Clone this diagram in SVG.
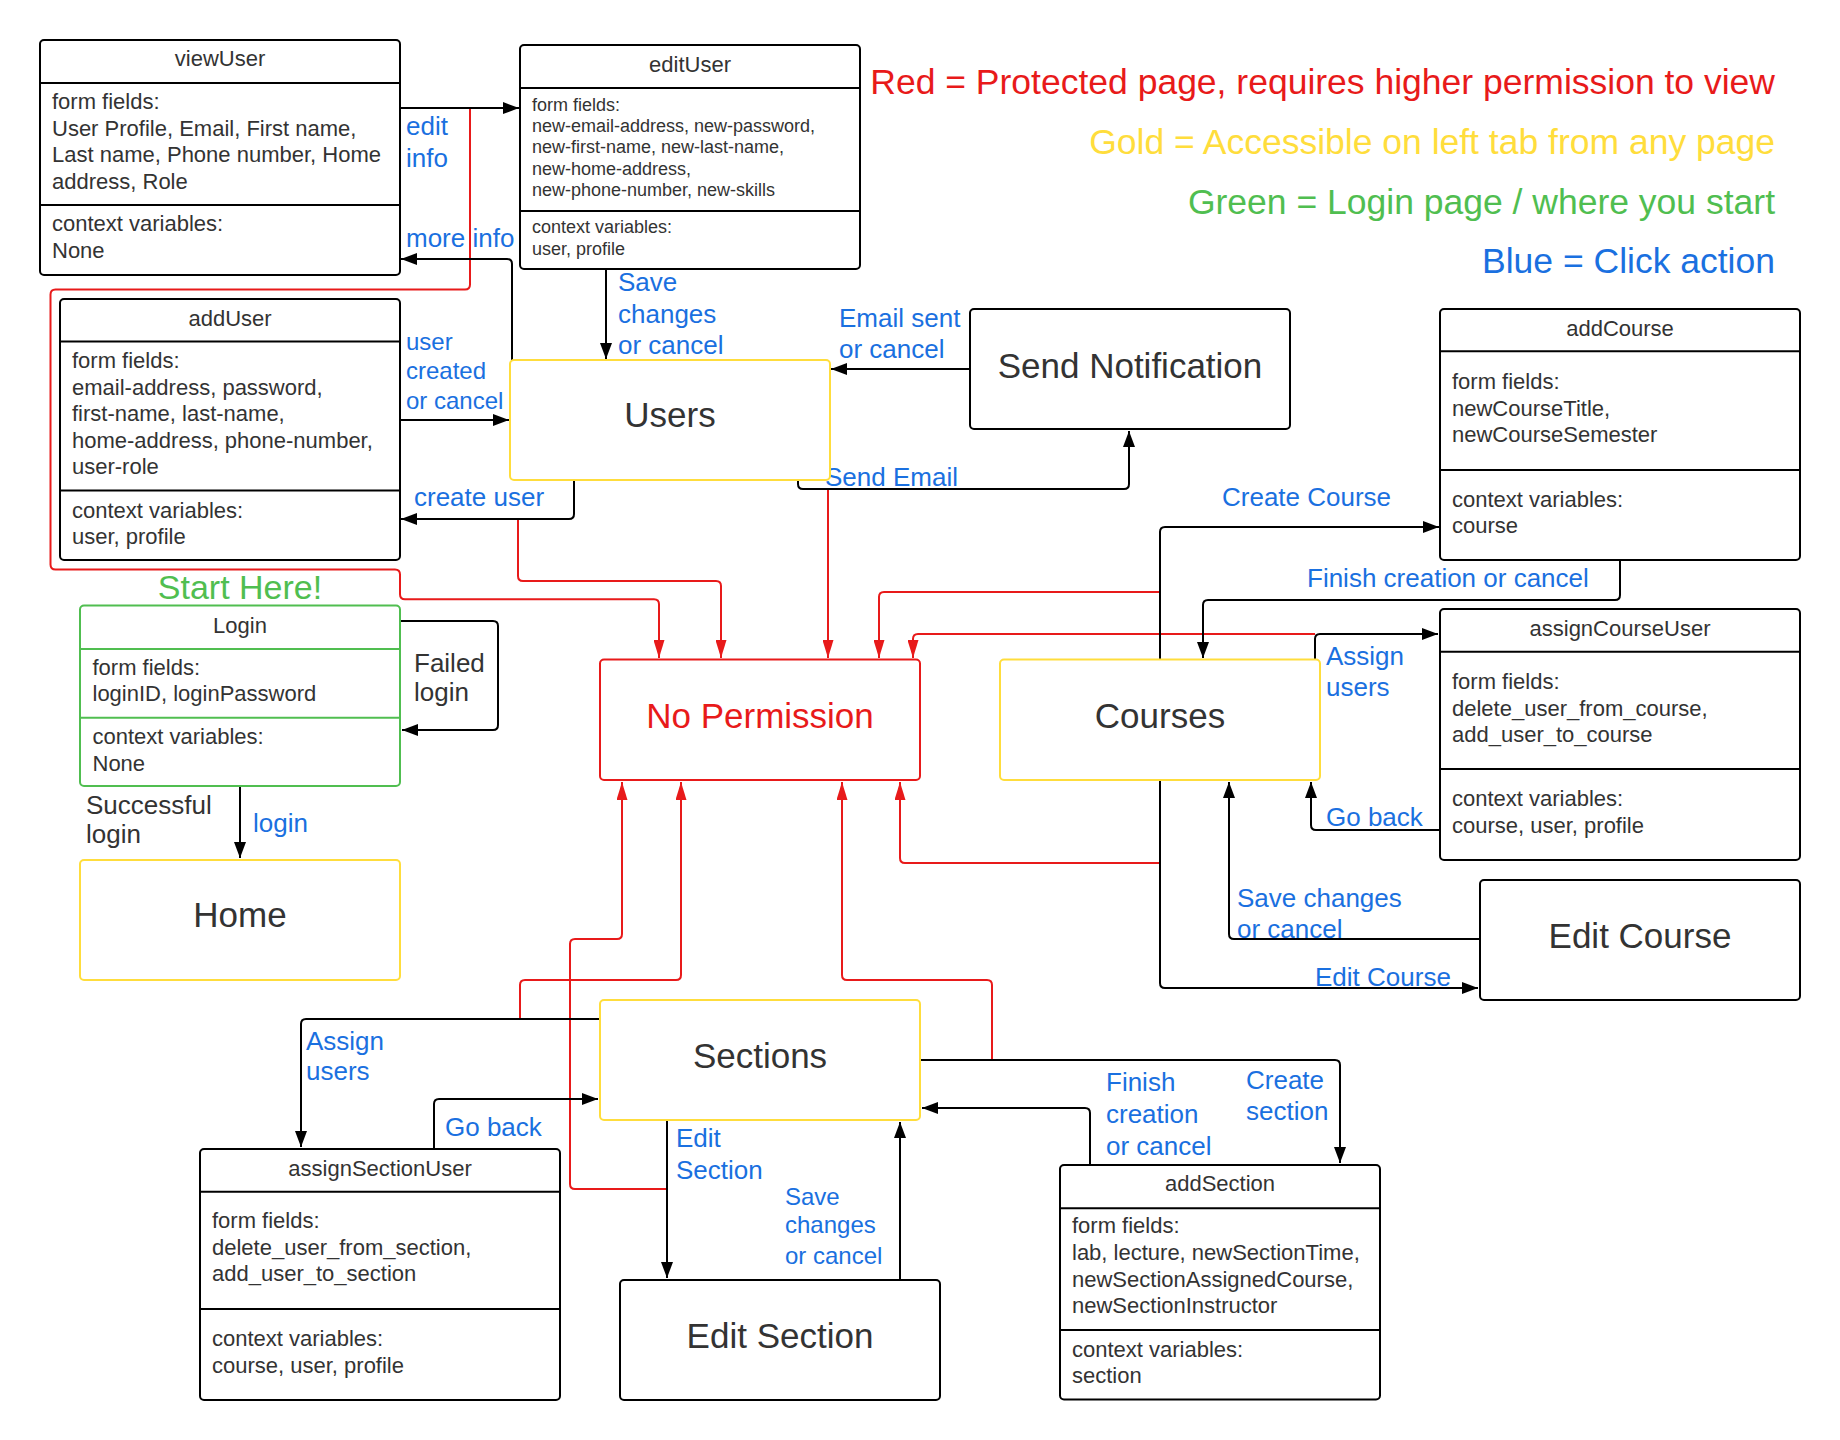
<svg xmlns="http://www.w3.org/2000/svg" width="1840" height="1440" viewBox="0 0 1840 1440">
<defs>
<marker id="ab" markerUnits="userSpaceOnUse" markerWidth="16" markerHeight="12" refX="16" refY="6" orient="auto"><path d="M0,0 L16,6 L0,12 z" fill="#000"/></marker>
<marker id="ar" markerUnits="userSpaceOnUse" markerWidth="18" markerHeight="11" refX="18" refY="5.5" orient="auto"><path d="M0,0 L18,5.5 L0,11 z" fill="#e81a1a"/></marker>
</defs>
<style>
text{font-family:"Liberation Sans",Arial,sans-serif;fill:#333}
.box{fill:#fff;stroke:#000;stroke-width:2}
.yel{fill:#fff;stroke:#ffdd3c;stroke-width:2}
.grn{fill:#fff;stroke:#50be50;stroke-width:2}
.red{fill:#fff;stroke:#e81a1a;stroke-width:2}
.div{stroke:#000;stroke-width:2}
.gdiv{stroke:#50be50;stroke-width:2}
.t22{font-size:22px}
.t18{font-size:18px}
.t26{font-size:26px}
.big{font-size:35px}
.mid{text-anchor:middle}
.leg{font-size:35.5px;text-anchor:end}
.lbl{font-size:26px;fill:#1a70e0}
.l24{font-size:24px;fill:#1a70e0}
.k{fill:none;stroke:#000;stroke-width:2;stroke-linejoin:round;marker-end:url(#ab)}
.r{fill:none;stroke:#e81a1a;stroke-width:2;stroke-linejoin:round;marker-end:url(#ar)}
</style>
<rect width="1840" height="1440" fill="#fff"/>

<g id="connectors">
<path class="r" d="M470,108 V284.5 Q470,289.5 465,289.5 H55.5 Q50.5,289.5 50.5,294.5 V564.5 Q50.5,569.5 55.5,569.5 H395 Q400,569.5 400,574.5 V594.3 Q400,599.3 405,599.3 H654 Q659,599.3 659,604.3 V658"/>
<path class="r" d="M518,519 V576 Q518,581 523,581 H716 Q721,581 721,586 V658"/>
<path class="r" d="M828,490 V658"/>
<path class="r" d="M1160,592 H884 Q879,592 879,597 V658"/>
<path class="r" d="M1315,634 H918 Q913,634 913,639 V658"/>
<path class="r" d="M1160,863 H905 Q900,863 900,858 V782"/>
<path class="r" d="M666,1189 H575 Q570,1189 570,1184 V944 Q570,939 575,939 H617 Q622,939 622,934 V782"/>
<path class="r" d="M520,1019 V985 Q520,980 525,980 H676 Q681,980 681,975 V782"/>
<path class="r" d="M992,1060 V985 Q992,980 987,980 H847 Q842,980 842,975 V782"/>

<path class="k" d="M400,108 H519"/>
<path class="k" d="M512,360 V264 Q512,259 507,259 H401"/>
<path class="k" d="M606,269 V359"/>
<path class="k" d="M400,420 H509"/>
<path class="k" d="M574,480 V514 Q574,519 569,519 H401"/>
<path class="k" d="M798,480 V484 Q798,489 803,489 H1124 Q1129,489 1129,484 V431"/>
<path class="k" d="M970,369 H831"/>
<path class="k" d="M1160,659 V532 Q1160,527 1165,527 H1439"/>
<path class="k" d="M1620,560 V595 Q1620,600 1615,600 H1208 Q1203,600 1203,605 V658"/>
<path class="k" d="M1315,659 V639 Q1315,634 1320,634 H1438"/>
<path class="k" d="M1440,830 H1316 Q1311,830 1311,825 V782"/>
<path class="k" d="M1480,939 H1234 Q1229,939 1229,934 V782"/>
<path class="k" d="M1160,780 V983 Q1160,988 1165,988 H1478"/>
<path class="k" d="M400,621 H493 Q498,621 498,626 V725 Q498,730 493,730 H402"/>
<path class="k" d="M240,786 V858"/>
<path class="k" d="M600,1019 H306 Q301,1019 301,1024 V1147"/>
<path class="k" d="M434,1149 V1104 Q434,1099 439,1099 H598"/>
<path class="k" d="M667,1120 V1278"/>
<path class="k" d="M900,1280 V1122"/>
<path class="k" d="M920,1060 H1335 Q1340,1060 1340,1065 V1163"/>
<path class="k" d="M1090,1165 V1113 Q1090,1108 1085,1108 H922"/>

<text class="lbl" x="406" y="135">edit</text>
<text class="lbl" x="406" y="167">info</text>
<text class="lbl" x="406" y="247">more info</text>
<text class="lbl" x="618" y="291">Save</text>
<text class="lbl" x="618" y="322.5">changes</text>
<text class="lbl" x="618" y="354">or cancel</text>
<text class="lbl" x="839" y="326.5">Email sent</text>
<text class="lbl" x="839" y="358">or cancel</text>
<text class="l24" x="406" y="350">user</text>
<text class="l24" x="406" y="379">created</text>
<text class="l24" x="406" y="408.5">or cancel</text>
<text class="lbl" x="414" y="506">create user</text>
<text class="lbl" x="825" y="486">Send Email</text>
<text class="lbl" x="1222" y="506">Create Course</text>
<text class="lbl" x="1307" y="587">Finish creation or cancel</text>
<text class="lbl" x="1326" y="665">Assign</text>
<text class="lbl" x="1326" y="696">users</text>
<text class="lbl" x="1326" y="826">Go back</text>
<text class="lbl" x="1237" y="906.5">Save changes</text>
<text class="lbl" x="1237" y="938">or cancel</text>
<text class="lbl" x="1315" y="986">Edit Course</text>
<text class="lbl" x="253" y="831.5">login</text>
<text class="lbl" x="306" y="1050">Assign</text>
<text class="lbl" x="306" y="1080">users</text>
<text class="lbl" x="445" y="1136">Go back</text>
<text class="lbl" x="676" y="1147">Edit</text>
<text class="lbl" x="676" y="1178.5">Section</text>
<text class="l24" x="785" y="1204.5">Save</text>
<text class="l24" x="785" y="1233">changes</text>
<text class="l24" x="785" y="1263.5">or cancel</text>
<text class="lbl" x="1106" y="1091">Finish</text>
<text class="lbl" x="1106" y="1122.5">creation</text>
<text class="lbl" x="1106" y="1155">or cancel</text>
<text class="lbl" x="1246" y="1088.5">Create</text>
<text class="lbl" x="1246" y="1120">section</text>
<text class="t26" x="414" y="671.5">Failed</text>
<text class="t26" x="414" y="701">login</text>
<text class="t26" x="86" y="813.5">Successful</text>
<text class="t26" x="86" y="843">login</text>
</g>

<g id="legend">
<text class="leg" x="1775" y="94" style="fill:#e81a1a">Red = Protected page, requires higher permission to view</text>
<text class="leg" x="1775" y="153.5" style="fill:#ffdd3c">Gold = Accessible on left tab from any page</text>
<text class="leg" x="1775" y="213.5" style="fill:#50be50">Green = Login page / where you start</text>
<text class="leg" x="1775" y="273" style="fill:#1a70e0">Blue = Click action</text>
<text x="240" y="598.5" style="font-size:34px;text-anchor:middle;fill:#50be50">Start Here!</text>
</g>

<g id="viewUser">
<rect class="box" x="40" y="40" width="360" height="235" rx="4"/>
<line class="div" x1="40" y1="83" x2="400" y2="83"/>
<line class="div" x1="40" y1="205" x2="400" y2="205"/>
<text class="t22 mid" x="220" y="66">viewUser</text>
<text class="t22" x="52" y="109">form fields:</text>
<text class="t22" x="52" y="135.6">User Profile, Email, First name,</text>
<text class="t22" x="52" y="162.2">Last name, Phone number, Home</text>
<text class="t22" x="52" y="188.8">address, Role</text>
<text class="t22" x="52" y="231">context variables:</text>
<text class="t22" x="52" y="258">None</text>
</g>

<g id="editUser">
<rect class="box" x="520" y="45" width="340" height="224" rx="4"/>
<line class="div" x1="520" y1="88" x2="860" y2="88"/>
<line class="div" x1="520" y1="211" x2="860" y2="211"/>
<text class="t22 mid" x="690" y="71.5">editUser</text>
<text class="t18" x="532" y="110.5">form fields:</text>
<text class="t18" x="532" y="132">new-email-address, new-password,</text>
<text class="t18" x="532" y="153.4">new-first-name, new-last-name,</text>
<text class="t18" x="532" y="174.8">new-home-address,</text>
<text class="t18" x="532" y="196.2">new-phone-number, new-skills</text>
<text class="t18" x="532" y="233.3">context variables:</text>
<text class="t18" x="532" y="254.8">user, profile</text>
</g>

<g id="addUser">
<rect class="box" x="60" y="299" width="340" height="261" rx="4"/>
<line class="div" x1="60" y1="341.5" x2="400" y2="341.5"/>
<line class="div" x1="60" y1="490.5" x2="400" y2="490.5"/>
<text class="t22 mid" x="230" y="325.5">addUser</text>
<text class="t22" x="72" y="368">form fields:</text>
<text class="t22" x="72" y="394.6">email-address, password,</text>
<text class="t22" x="72" y="421.2">first-name, last-name,</text>
<text class="t22" x="72" y="447.8">home-address, phone-number,</text>
<text class="t22" x="72" y="474.4">user-role</text>
<text class="t22" x="72" y="517.8">context variables:</text>
<text class="t22" x="72" y="544.2">user, profile</text>
</g>

<g id="Users">
<rect class="yel" x="510" y="360" width="320" height="120" rx="4"/>
<text class="big mid" x="670" y="427">Users</text>
</g>

<g id="SendNotification">
<rect class="box" x="970" y="309" width="320" height="120" rx="4"/>
<text class="big mid" x="1130" y="377.5">Send Notification</text>
</g>

<g id="addCourse">
<rect class="box" x="1440" y="309" width="360" height="251" rx="4"/>
<line class="div" x1="1440" y1="351.3" x2="1800" y2="351.3"/>
<line class="div" x1="1440" y1="470" x2="1800" y2="470"/>
<text class="t22 mid" x="1620" y="335.7">addCourse</text>
<text class="t22" x="1452" y="389">form fields:</text>
<text class="t22" x="1452" y="415.8">newCourseTitle,</text>
<text class="t22" x="1452" y="442.4">newCourseSemester</text>
<text class="t22" x="1452" y="506.7">context variables:</text>
<text class="t22" x="1452" y="533.4">course</text>
</g>

<g id="Login">
<rect class="grn" x="80" y="605.5" width="320" height="180.5" rx="4"/>
<line class="gdiv" x1="80" y1="649" x2="400" y2="649"/>
<line class="gdiv" x1="80" y1="717.7" x2="400" y2="717.7"/>
<text class="t22 mid" x="240" y="632.6">Login</text>
<text class="t22" x="92.5" y="675">form fields:</text>
<text class="t22" x="92.5" y="701.3">loginID, loginPassword</text>
<text class="t22" x="92.5" y="744.3">context variables:</text>
<text class="t22" x="92.5" y="771">None</text>
</g>

<g id="Home">
<rect class="yel" x="80" y="860" width="320" height="120" rx="4"/>
<text class="big mid" x="240" y="927">Home</text>
</g>

<g id="NoPermission">
<rect class="red" x="600" y="659.5" width="320" height="120.5" rx="4"/>
<text class="big mid" x="760" y="728" style="fill:#e81a1a">No Permission</text>
</g>

<g id="Courses">
<rect class="yel" x="1000" y="659.5" width="320" height="120.5" rx="4"/>
<text class="big mid" x="1160" y="728">Courses</text>
</g>

<g id="assignCourseUser">
<rect class="box" x="1440" y="609" width="360" height="251" rx="4"/>
<line class="div" x1="1440" y1="651.7" x2="1800" y2="651.7"/>
<line class="div" x1="1440" y1="769" x2="1800" y2="769"/>
<text class="t22 mid" x="1620" y="635.6">assignCourseUser</text>
<text class="t22" x="1452" y="688.6">form fields:</text>
<text class="t22" x="1452" y="715.6">delete_user_from_course,</text>
<text class="t22" x="1452" y="742.3">add_user_to_course</text>
<text class="t22" x="1452" y="806.3">context variables:</text>
<text class="t22" x="1452" y="833">course, user, profile</text>
</g>

<g id="EditCourse">
<rect class="box" x="1480" y="880" width="320" height="120" rx="4"/>
<text class="big mid" x="1640" y="948">Edit Course</text>
</g>

<g id="Sections">
<rect class="yel" x="600" y="1000" width="320" height="120" rx="4"/>
<text class="big mid" x="760" y="1068">Sections</text>
</g>

<g id="assignSectionUser">
<rect class="box" x="200" y="1149" width="360" height="251" rx="4"/>
<line class="div" x1="200" y1="1191.7" x2="560" y2="1191.7"/>
<line class="div" x1="200" y1="1309" x2="560" y2="1309"/>
<text class="t22 mid" x="380" y="1175.6">assignSectionUser</text>
<text class="t22" x="212" y="1228">form fields:</text>
<text class="t22" x="212" y="1254.6">delete_user_from_section,</text>
<text class="t22" x="212" y="1281.3">add_user_to_section</text>
<text class="t22" x="212" y="1346.3">context variables:</text>
<text class="t22" x="212" y="1372.6">course, user, profile</text>
</g>

<g id="EditSection">
<rect class="box" x="620" y="1280" width="320" height="120" rx="4"/>
<text class="big mid" x="780" y="1348">Edit Section</text>
</g>

<g id="addSection">
<rect class="box" x="1060" y="1165" width="320" height="234.5" rx="4"/>
<line class="div" x1="1060" y1="1208.3" x2="1380" y2="1208.3"/>
<line class="div" x1="1060" y1="1330" x2="1380" y2="1330"/>
<text class="t22 mid" x="1220" y="1191.3">addSection</text>
<text class="t22" x="1072" y="1233.3">form fields:</text>
<text class="t22" x="1072" y="1260">lab, lecture, newSectionTime,</text>
<text class="t22" x="1072" y="1286.6">newSectionAssignedCourse,</text>
<text class="t22" x="1072" y="1313.3">newSectionInstructor</text>
<text class="t22" x="1072" y="1356.6">context variables:</text>
<text class="t22" x="1072" y="1383">section</text>
</g>
</svg>
